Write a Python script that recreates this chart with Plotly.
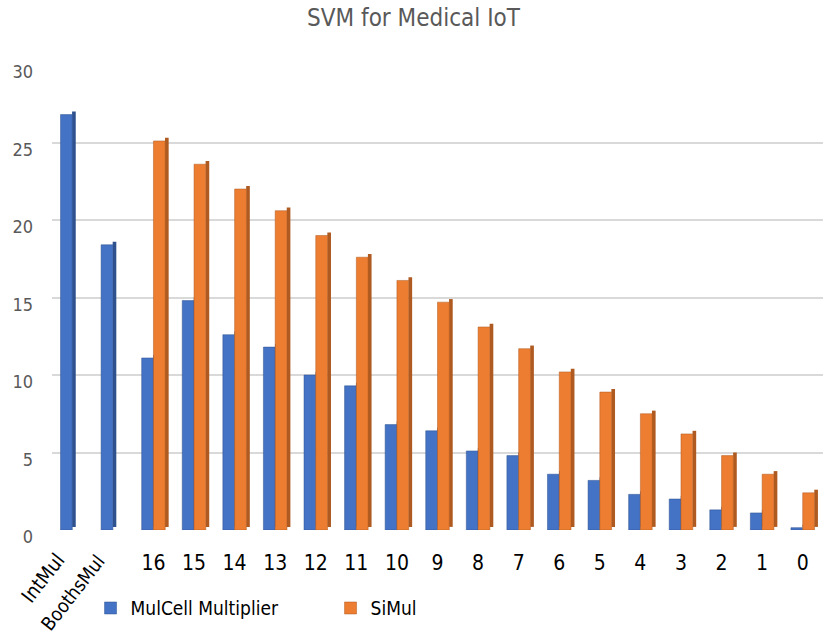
import plotly.graph_objects as go

categories = ["IntMul", "BoothsMul", "16", "15", "14", "13", "12", "11", "10",
              "9", "8", "7", "6", "5", "4", "3", "2", "1", "0"]
mulcell = [26.8, 18.4, 11.1, 14.8, 12.6, 11.8, 10.0, 9.3, 6.8,
           6.4, 5.1, 4.8, 3.6, 3.2, 2.3, 2.0, 1.3, 1.1, 0.15]
simul = [None, None, 25.1, 23.6, 22.0, 20.6, 19.0, 17.6, 16.1,
         14.7, 13.1, 11.7, 10.2, 8.9, 7.5, 6.2, 4.8, 3.6, 2.4]
y_ticks = [0, 5, 10, 15, 20, 25, 30]

BLUE, BLUE_D = "#4472C4", "#2F528F"
ORANGE, ORANGE_D = "#ED7D31", "#AE5A21"
FONT = "DejaVu Sans Condensed, Liberation Sans, sans-serif"

W = 0.29
SIDE = 0.09
LIFT = 0.2

fig = go.Figure()
fig.add_trace(go.Bar(x=categories, y=mulcell, base=LIFT, offset=-0.005, width=SIDE,
                     marker=dict(color=BLUE_D, line=dict(width=0)), showlegend=False, hoverinfo="skip"))
fig.add_trace(go.Bar(x=categories, y=mulcell, name="MulCell Multiplier", offset=-W, width=W,
                     marker=dict(color=BLUE, line=dict(color=BLUE_D, width=0.5))))
fig.add_trace(go.Bar(x=categories, y=simul, base=LIFT, offset=W - 0.005, width=SIDE,
                     marker=dict(color=ORANGE_D, line=dict(width=0)), showlegend=False, hoverinfo="skip"))
fig.add_trace(go.Bar(x=categories, y=simul, name="SiMul", offset=0, width=W,
                     marker=dict(color=ORANGE, line=dict(color=ORANGE_D, width=0.5))))

ticktext = ["", ""] + categories[2:]

fig.update_layout(
    width=827, height=638,
    margin=dict(l=52, r=4, t=65, b=108),
    paper_bgcolor="white", plot_bgcolor="white",
    barmode="overlay",
    title=dict(text="SVM for Medical IoT", x=0.5, xanchor="center", y=0.972, yanchor="middle",
               font=dict(family=FONT, size=24, color="#595959")),
    xaxis=dict(type="category", categoryorder="array", categoryarray=categories,
               tickmode="array", tickvals=categories, ticktext=ticktext, tickangle=0,
               showgrid=False, showline=False, zeroline=False, ticks="", ticklabelstandoff=18,
               tickfont=dict(family=FONT, size=21, color="#000000"), range=[-0.5, 18.5]),
    yaxis=dict(range=[0, 30], tickvals=y_ticks, showline=False, zeroline=False,
               gridcolor="#D9D9D9", gridwidth=2, ticks="", ticklabelstandoff=18, ticklabelshift=7,
               tickfont=dict(family=FONT, size=18, color="#595959")),
    legend=dict(orientation="h", x=0.05, xanchor="left", y=-0.168, yanchor="middle",
                entrywidth=195, entrywidthmode="pixels",
                font=dict(family=FONT, size=19, color="#000000")),
    showlegend=True,
    annotations=[
        dict(text="IntMul", x=-0.012, xref="paper", y=-0.103, yref="paper", showarrow=False,
             xanchor="center", yanchor="middle",
             textangle=-52, font=dict(family=FONT, size=20, color="#000000")),
        dict(text="BoothsMul", x=0.026, xref="paper", y=-0.135, yref="paper", showarrow=False,
             xanchor="center", yanchor="middle",
             textangle=-52, font=dict(family=FONT, size=19, color="#000000")),
    ],
)

fig.write_html("out.html")
